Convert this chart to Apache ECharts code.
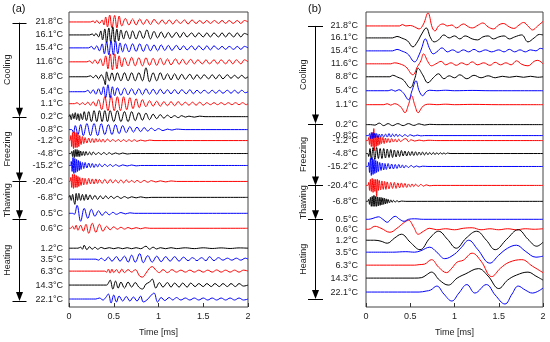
<!DOCTYPE html>
<html><head><meta charset="utf-8">
<script src="https://cdn.jsdelivr.net/npm/echarts@6/dist/echarts.min.js"></script>
<style>html,body{margin:0;padding:0;background:#fff}#c{width:550px;height:342px}</style>
</head><body><div id="c"></div>
<script>
// ---- data ----
const xTicks = [0, 0.5, 1, 1.5, 2];
const temps = ['21.8°C','16.1°C','15.4°C','11.6°C','8.8°C','5.4°C','1.1°C','0.2°C','-0.8°C','-1.2°C','-4.8°C','-15.2°C','-20.4°C','-6.8°C','0.5°C','0.6°C','1.2°C','3.5°C','6.3°C','14.3°C','22.1°C'];
const offsetsA = [22,35,48,62,77,92,104,117,130,141,154,166,182,198,214,229,249,260,272,286,300];
const offsetsB = [26,38,51,64,77,91,105,125,136,141,154,167,186,202,220,230,241,253,266,279,293];
const groupNames = ['Cooling','Freezing','Thawing','Heating'];
const groupEdgesA = [22.7,117,182,220,302];
const groupEdgesB = [26,124,186,220,300];

// waveforms: flat lists of time [ms], amplitude
const a01=[0,0,0.24,0,0.27,1,0.29,-1,0.31,1.5,0.34,-1.5,0.37,2,0.39,-3,0.41,5,0.43,-5,0.455,7,0.48,-6,0.51,6.5,0.535,-6,0.56,6,0.59,-4,0.63,3.5,0.67,-3,0.71,3,0.75,-3,0.79,3,0.83,-2.5,0.87,2.5,0.91,-2.5,0.95,2.5,1.0,-2,1.04,2,1.08,-2,1.12,2,1.16,-2,1.2,2,1.245,-1.5,1.29,2,1.33,-2,1.375,2,1.42,-1.5,1.46,1.5,1.5,-1.5,1.54,1.5,1.58,-1.5,1.625,1.5,1.67,-1.5,1.71,1.5,1.75,-1.5,1.79,1.5,1.835,-1.5,1.88,1.5,1.92,-1.5,1.96,1.5,2.0,0];
const a02=[0,0,0.23,0,0.26,1,0.28,-1,0.3,1.5,0.33,-2,0.355,4,0.375,-5,0.4,6,0.42,-8,0.445,7,0.465,-7,0.49,8,0.51,-7,0.535,6,0.555,-6,0.58,5,0.61,-4,0.64,4,0.68,-4,0.71,4,0.75,-4,0.79,4,0.83,-3.5,0.87,5,0.91,-4,0.95,3.5,0.99,-3,1.03,3,1.07,-3,1.11,2.5,1.15,-2.5,1.2,2.5,1.24,-2.5,1.28,2.5,1.32,-2,1.37,2,1.41,-2,1.45,2,1.5,-2,1.54,2,1.58,-2,1.62,2,1.67,-2,1.71,2,1.75,-2,1.79,2,1.84,-2,1.88,2,1.92,-2,1.96,1.5,2,0];
const a03=[0,0,0.22,0,0.25,1.5,0.28,-1.5,0.31,2,0.34,-3,0.37,4,0.395,-6,0.42,6,0.445,-7,0.47,7,0.495,-7,0.52,7,0.545,-6,0.57,5,0.6,-4,0.63,4,0.67,-4,0.71,4,0.75,-3.5,0.79,4,0.83,-3.5,0.87,3.5,0.91,-3,0.95,3,0.99,-3,1.03,3,1.07,-2.5,1.11,2.5,1.15,-2.5,1.2,2.5,1.24,-2,1.28,2,1.32,-2,1.37,2,1.41,-2,1.45,2,1.5,-2,1.54,2,1.58,-2,1.62,2,1.67,-1.5,1.71,1.5,1.75,-1.5,1.79,1.5,1.84,-1.5,1.88,1.5,1.92,-1.5,1.96,1.5,2,0];
const a04=[0,0,0.2,0,0.23,1,0.26,-1.5,0.29,2,0.32,-2,0.35,3,0.38,-4,0.41,6,0.435,-7,0.46,8,0.485,-8,0.51,8,0.535,-7,0.56,6,0.59,-5,0.62,4,0.66,-4,0.7,4.5,0.74,-4,0.78,4,0.82,-4,0.86,4,0.9,-3.5,0.94,3.5,0.98,-3.5,1.02,3.5,1.06,-3,1.1,3,1.14,-3,1.19,3,1.23,-2.5,1.27,2.5,1.31,-2.5,1.36,2.5,1.4,-2,1.44,2,1.49,-2,1.53,2,1.57,-2,1.62,2,1.66,-2,1.7,2,1.75,-2,1.79,2,1.83,-2,1.87,2,1.92,-2,1.96,2,2,0];
const a05=[0,0,0.2,0,0.24,1,0.27,-1,0.3,1.5,0.33,-2,0.36,2,0.39,-3,0.405,-8,0.42,5,0.45,-4,0.48,4,0.51,-4,0.54,4,0.58,-4,0.62,4,0.66,-4,0.7,4,0.74,-4,0.78,4,0.82,-4,0.86,9,0.9,-5,0.94,4,0.98,-4,1.02,4,1.06,-3,1.1,3,1.14,-3,1.18,3,1.22,-3,1.26,2.5,1.3,-2.5,1.35,2.5,1.39,-2.5,1.43,2,1.47,-2,1.51,2,1.56,-2,1.6,2,1.64,-2,1.68,2,1.72,-2,1.77,2,1.81,-1.5,1.85,1.5,1.89,-1.5,1.93,1.5,1.97,-1.5,2,0];
const a06=[0,0,0.18,0,0.21,1.5,0.24,-1.5,0.27,2,0.3,-2.5,0.33,3,0.36,-3,0.385,5,0.41,-6,0.435,7,0.46,-6,0.485,5,0.51,-4,0.54,4,0.58,-3.5,0.62,3.5,0.66,-3,0.7,3,0.74,-3,0.78,3,0.82,-3,0.86,3,0.9,-2.5,0.94,2.5,0.98,-2.5,1.02,2.5,1.06,-2,1.1,2,1.14,-2,1.18,2,1.22,-2,1.26,2,1.31,-2,1.35,2,1.39,-2,1.43,1.5,1.47,-1.5,1.51,1.5,1.56,-1.5,1.6,1.5,1.64,-1.5,1.68,1.5,1.72,-1.5,1.77,1.5,1.81,-1.5,1.85,1.5,1.89,-1.5,1.93,1.5,1.97,-1,2,0];
const a07=[0,0,0.06,0,0.09,1,0.12,-1,0.15,1,0.18,-1,0.21,1.5,0.24,-1.5,0.27,2,0.3,-2.5,0.33,4,0.365,-6,0.4,7,0.435,-7,0.47,8,0.505,-7,0.54,7,0.575,-7,0.61,7,0.645,-6,0.68,6,0.715,-5,0.75,5,0.785,-4,0.82,4,0.86,-3,0.9,3,0.94,-2.5,0.98,2.5,1.02,-2.5,1.06,2,1.1,-2,1.14,2,1.18,-2,1.22,2,1.26,-1.5,1.3,1.5,1.34,-1.5,1.38,1.5,1.42,-1.5,1.46,1.5,1.5,-1.5,1.54,1,1.58,-1,1.62,1,1.66,-1,1.7,1,1.74,-1,1.78,1,1.82,-1,1.86,1,1.9,-1,1.94,1,1.98,-1,2,0];
const a08=[0,0,0.01,2,0.025,-3,0.04,3,0.055,-2,0.07,4,0.085,-3,0.1,3,0.115,-4,0.13,3,0.15,-3,0.17,5,0.195,-4,0.22,5,0.25,-5,0.28,6,0.31,-5,0.34,6,0.37,-5,0.4,6,0.43,-5,0.46,6,0.5,-5,0.54,6,0.58,-5,0.62,5,0.66,-5,0.7,5,0.74,-4,0.78,4,0.82,-3.5,0.86,3.5,0.9,-3,0.94,2.5,0.98,-2,1.02,2,1.06,-1.5,1.1,1.5,1.14,-1,1.18,1,1.22,-1,1.26,1,1.3,-0.5,1.34,0.5,1.4,-0.5,1.46,0.5,1.52,0,2,0];
const a09=[0,0,0.03,0,0.05,-3,0.07,4,0.1,-5,0.13,5,0.16,-6,0.2,6,0.24,-6,0.28,6,0.32,-6,0.36,6,0.4,-5,0.44,5,0.48,-5,0.52,5,0.56,-4,0.6,4,0.64,-3,0.68,3,0.72,-2.5,0.76,2.5,0.8,-2,0.84,2,0.88,-1.5,0.92,1.5,0.96,-1,1.0,1,1.05,-1,1.1,0.5,1.15,-0.5,1.2,0.5,1.3,0,2,0];
const a10=[0,0,0.01,0,0.02,5,0.03,-6,0.04,8,0.05,-8,0.06,9,0.07,-7,0.08,8,0.09,-7,0.1,6,0.11,-6,0.12,5,0.135,-4,0.15,4,0.165,-3,0.18,3,0.2,-2.5,0.22,2.5,0.24,-2,0.26,2,0.28,-2,0.3,2,0.32,-1.5,0.34,1.5,0.36,-1.5,0.38,1.5,0.4,-1.5,0.43,1.5,0.46,-1,0.49,1,0.52,-1,0.55,1,0.58,-1,0.61,1,0.64,-1,0.67,0.8,0.7,-0.8,0.73,0.8,0.76,-0.8,0.8,0.5,0.85,-0.5,0.9,0.5,0.95,0,2,0];
const a11=[0,0,0.02,0,0.03,2,0.04,-3,0.05,3,0.06,-4,0.07,4,0.08,-3,0.09,4,0.1,-3,0.11,3,0.12,-3,0.13,2.5,0.145,-2,0.16,2,0.175,-2,0.19,2,0.21,-1.5,0.23,1.5,0.25,-1.5,0.27,1.5,0.3,-1,0.33,1,0.36,-1,0.39,1,0.42,-1,0.45,0.8,0.48,-0.8,0.52,0.6,0.56,-0.6,0.6,0.5,0.65,-0.5,0.7,0,2,0];
const a12=[0,0,0.02,0,0.025,4,0.035,-6,0.045,8,0.055,-8,0.065,7,0.075,-7,0.085,6,0.095,-6,0.105,5,0.115,-5,0.125,4,0.135,-4,0.15,3,0.165,-3,0.18,3,0.2,-2.5,0.22,2.5,0.24,-2,0.26,2,0.28,-2,0.3,1.5,0.32,-1.5,0.34,1.5,0.37,-1.2,0.4,1.2,0.43,-1,0.46,1,0.49,-1,0.52,0.8,0.56,-0.8,0.6,0.6,0.65,-0.5,0.7,0.5,0.75,-0.4,0.8,0,2,0];
const a13=[0,0,0.01,0,0.02,4,0.03,-6,0.04,7,0.05,-7,0.06,7,0.07,-6,0.08,6,0.09,-6,0.1,5,0.11,-5,0.12,4,0.135,-4,0.15,3.5,0.165,-3.5,0.18,3,0.2,-3,0.22,3,0.24,-2.5,0.26,2.5,0.28,-2.5,0.3,2.5,0.32,-2,0.34,2,0.37,-2,0.4,2,0.43,-2,0.46,2,0.49,-1.5,0.52,1.5,0.55,-1.5,0.58,1.5,0.61,-1.5,0.64,1.5,0.67,-1,0.7,1,0.73,-1,0.76,1,0.8,-1,0.84,1,0.88,-0.8,0.92,0.8,0.97,-0.6,1.02,0.6,1.08,-0.5,1.14,0.5,1.2,0,2,0];
const a14=[0,0,0.01,2,0.025,-3,0.04,3,0.055,-4,0.065,-7,0.08,4,0.095,-3,0.11,4,0.13,-3,0.15,3,0.17,-3,0.19,3,0.21,-2.5,0.235,2.5,0.26,-2,0.29,2,0.32,-2,0.35,1.5,0.38,-1.5,0.41,1.5,0.44,-1.2,0.47,1.2,0.5,-1,0.54,1,0.58,-1,0.62,0.8,0.66,-0.8,0.7,0.6,0.75,-0.5,0.8,0.5,0.86,-0.4,0.92,0,2,0];
const a15=[0,0,0.04,0,0.06,-1,0.09,8,0.13,-8,0.17,5,0.21,-5,0.25,4,0.29,-3,0.33,2.5,0.37,-2,0.41,1.5,0.45,-1.5,0.49,1,0.53,-1,0.58,0.8,0.63,-0.6,0.68,0.5,0.73,0,2,0];
const a16=[0,0,0.02,0,0.04,2,0.06,-1,0.08,3,0.1,-2,0.13,3,0.16,-3,0.19,4,0.22,-5,0.26,5,0.3,-4,0.34,4,0.38,-3,0.42,2,0.46,-1.5,0.5,1.5,0.54,-1,0.58,1,0.62,-0.8,0.66,0.8,0.7,-0.6,0.75,0.6,0.8,-0.5,0.85,0.5,0.9,0,2,0];
const a17=[0,0,0.1,0,0.13,1,0.15,-1,0.17,3,0.2,-1.5,0.23,1.5,0.26,-1,0.29,1,0.32,-1,0.36,0.8,0.4,-0.5,0.45,0.5,0.5,-0.5,0.55,0.5,0.6,-0.5,0.65,0.5,0.7,-0.5,0.75,0.5,0.8,-0.5,0.86,2,0.9,-1,0.94,1,0.98,-0.8,1.02,0.5,1.08,-0.5,1.14,0.5,1.2,-0.4,1.3,0.4,1.4,-0.4,1.5,0.4,1.6,-0.3,1.7,0.3,1.8,-0.3,1.9,0.3,2,0];
const a18=[0,0,0.3,0,0.33,-1,0.36,1,0.4,-1.5,0.44,2,0.48,-2,0.53,2.5,0.57,-2,0.62,3,0.66,-3,0.7,4,0.74,-3,0.79,5.5,0.83,-3.5,0.88,3.5,0.93,-3,0.98,3,1.03,-2.5,1.08,2.5,1.13,-2,1.18,2.5,1.23,-2,1.28,2,1.33,-1.5,1.38,1.5,1.43,-1.5,1.48,1.5,1.53,-1.5,1.57,2.5,1.62,-1.5,1.67,1.5,1.72,-1,1.77,1,1.82,-1,1.87,1,1.92,-1,1.97,1,2,0];
const a19=[0,0,0.4,0,0.42,-1,0.44,2,0.46,-2,0.48,2,0.5,-1.5,0.53,1.5,0.56,-2,0.59,2,0.62,-1.5,0.66,1.5,0.7,-1,0.74,1.5,0.79,-5,0.82,-6,0.86,-2,0.9,3,0.93,4.5,0.97,1,1.01,-1.5,1.05,1.5,1.1,-1.5,1.15,1.5,1.2,-1,1.25,1,1.3,-1,1.35,1,1.4,-1,1.45,1,1.5,-1,1.55,1,1.6,-1,1.65,1.2,1.7,-1,1.75,1,1.8,-1,1.85,1,1.9,-1,1.95,1,2,0];
const a20=[0,0,0.42,0,0.44,2,0.46,5,0.49,-4,0.52,4,0.55,-3,0.58,3,0.62,-3,0.66,3,0.7,-2,0.74,2.5,0.78,-2,0.82,-4,0.86,1,0.9,3,0.93,6,0.97,-3,1.01,2.5,1.05,-2,1.1,2.5,1.14,-2,1.18,2,1.23,-2,1.27,2,1.32,-2,1.36,2,1.41,-1.5,1.45,1.5,1.5,-1.5,1.54,1.5,1.59,-1.5,1.63,1.5,1.68,-1.5,1.72,1.5,1.77,-1.5,1.81,1.5,1.86,-1.5,1.9,1.5,1.95,-1,2,0];
const a21=[0,0,0.3,0,0.34,1,0.38,-1,0.41,1.5,0.44,5,0.47,-4,0.5,4,0.53,-3,0.56,3,0.6,-2,0.64,2.5,0.68,-2,0.72,2,0.76,-2,0.8,3,0.83,-3,0.87,-1,0.91,3,0.95,6,0.99,-3,1.03,1.5,1.07,-1.5,1.12,1.5,1.16,-1,1.2,1.5,1.25,-1,1.3,1,1.35,-1,1.4,1,1.45,-1,1.5,1,1.55,-1,1.6,1,1.65,-1,1.7,1,1.75,-1,1.8,1,1.85,-1,1.9,1,1.95,-1,2,0];

const b01=[0,0,0.38,0,0.41,1.5,0.45,0,0.5,0.5,0.55,-1,0.6,-3,0.65,2,0.7,13,0.75,-2,0.78,-5,0.82,0,0.87,2,0.92,0,0.97,1,1.02,-2,1.1,2,1.16,-1,1.2,-2,1.27,1,1.32,3,1.38,-1,1.44,-3,1.5,1,1.55,2.5,1.62,-1,1.67,-2.5,1.73,1,1.78,3.5,1.84,-1,1.88,-4,1.94,0,2,4.5];
const b02=[0,0,0.3,0,0.35,1.5,0.4,0,0.47,-3,0.53,-9,0.58,-4,0.63,4,0.68,10,0.73,0,0.77,-4,0.82,-2,0.88,3,0.94,0,1.0,2,1.06,-1,1.12,2,1.2,-1,1.26,-2,1.32,1,1.38,2,1.44,-1,1.5,1,1.56,2,1.62,-1,1.68,1,1.76,3,1.83,-4,1.9,0,1.96,3.5,2,3];
const b03=[0,0,0.3,0,0.35,1.5,0.4,0,0.47,-3,0.55,-11,0.6,-4,0.63,3,0.67,12,0.72,2,0.76,-3,0.8,-1,0.86,3,0.92,-1,0.98,1,1.04,-1.5,1.1,1,1.16,-1,1.22,1.5,1.28,-1,1.35,1,1.42,-1,1.5,1,1.56,-1,1.62,1.5,1.68,-1,1.74,1,1.8,-1,1.86,1,1.92,0,1.97,2.5,2,2];
const b04=[0,0,0.28,0,0.32,1,0.38,0,0.45,-3,0.53,-11,0.58,-3,0.62,3,0.65,10,0.7,2,0.74,-2,0.79,0,0.85,2.5,0.9,-1,0.96,1,1.02,-1.5,1.08,1,1.14,-1,1.2,2,1.26,-1,1.33,1,1.4,-1.5,1.46,1.5,1.52,-1,1.58,1,1.64,-1,1.7,3,1.76,-0.5,1.83,-2,1.9,2.5,1.94,3.5,2,0];
const b05=[0,0,0.27,0,0.3,1.5,0.36,-0.5,0.42,-3,0.5,-11,0.55,-2,0.59,8.5,0.64,2,0.7,-6,0.76,-1,0.82,3,0.88,-2,0.94,1,1.0,-1,1.06,2,1.14,-2,1.22,1.5,1.3,-1,1.38,1,1.46,-1,1.54,0.5,1.62,-0.5,1.7,0.5,1.78,-0.5,1.86,0.5,1.94,-0.5,2,0];
const b06=[0,0,0.25,0,0.29,1,0.33,-0.5,0.37,1,0.42,-2,0.48,-9,0.52,0,0.565,10,0.6,0,0.64,-5,0.68,-1,0.72,0.5,0.8,0,0.9,0.5,1.0,0,1.2,0.3,1.4,0,2,0];
const b07=[0,0,0.2,0,0.24,1,0.28,-0.5,0.32,1,0.36,0,0.4,-3,0.44,-8,0.48,0,0.515,9,0.55,0,0.59,-8,0.63,-3,0.67,0,0.72,0.5,0.8,0,0.9,0.5,1.0,0,1.2,0.3,1.5,0,2,0];
const b08=[0,0,0.05,0,0.1,-0.5,0.15,1.5,0.2,-1,0.25,1,0.3,-1,0.36,1,0.42,-1,0.48,1,0.54,-0.8,0.6,0.8,0.66,-0.5,0.72,0.3,0.8,0,2,0];
const b09=[0,0,0.03,0,0.04,2,0.05,-3,0.06,3,0.07,-3,0.08,3,0.09,-2.5,0.1,2.5,0.11,-2,0.12,2,0.135,-2,0.15,1.5,0.165,-1.5,0.18,1.5,0.2,-1.5,0.22,1.5,0.24,-1.5,0.26,2,0.28,-1.5,0.3,1.5,0.32,-1,0.34,1.5,0.36,-1,0.38,1,0.41,-1,0.44,1,0.47,-0.8,0.5,0.8,0.54,-0.5,0.58,0.5,0.62,-0.3,0.66,0,2,0];
const b10=[0,0,0.02,0,0.03,3,0.04,-4,0.05,5,0.06,-6,0.07,8,0.08,-6,0.088,12,0.095,-10,0.105,6,0.115,-6,0.125,5,0.135,-5,0.145,4,0.155,-4,0.165,3.5,0.175,-3,0.19,3,0.205,-3,0.22,2.5,0.235,-2,0.25,2,0.27,-2,0.29,2,0.31,-1.5,0.33,1.5,0.35,-1.5,0.37,1.5,0.39,-1,0.42,1,0.45,2,0.48,-1,0.51,0.8,0.55,-0.5,0.6,0.5,0.65,-0.3,0.7,0.3,0.8,0,2,0];
const b11=[0,0,0.02,0,0.03,-3,0.045,5,0.06,-6,0.08,6,0.1,-6,0.12,6,0.14,-5,0.16,5,0.18,-5,0.2,5,0.22,-4.5,0.24,4.5,0.26,-4,0.28,4,0.3,-4,0.32,3.5,0.34,-3.5,0.36,3,0.38,-3,0.4,3,0.42,-2.5,0.44,2.5,0.46,-2.5,0.48,2,0.5,-2,0.52,2,0.54,-2,0.56,1.8,0.58,-1.8,0.6,1.5,0.62,-1.5,0.64,1.5,0.66,-1.5,0.68,1.2,0.7,-1.2,0.72,1,0.74,-1,0.76,1,0.78,-1,0.8,0.8,0.82,-0.8,0.84,0.8,0.86,-0.6,0.88,0.6,0.9,-0.5,0.92,0.5,0.95,0,2,0];
const b12=[0,0,0.02,0,0.03,4,0.04,-6,0.05,8,0.06,-9,0.07,9,0.08,-8,0.09,7,0.1,-7,0.11,6,0.12,-6,0.13,5,0.14,-5,0.155,4,0.17,-4,0.185,3.5,0.2,-3.5,0.215,3,0.23,-3,0.25,3,0.27,-2.5,0.29,2.5,0.31,-2.5,0.33,2,0.35,-2,0.37,2,0.39,-1.5,0.41,1.5,0.43,-1.5,0.45,1,0.48,-1,0.51,1,0.54,-0.8,0.57,0.6,0.6,-0.5,0.64,0.3,0.7,0,2,0];
const b13=[0,0,0.02,0,0.03,3,0.04,-5,0.05,6,0.06,-6,0.07,7,0.08,-7,0.09,6,0.1,-6,0.11,6,0.12,-11,0.13,6,0.14,-5,0.15,5,0.165,-4.5,0.18,4.5,0.195,-4,0.21,4,0.225,-4,0.24,3.5,0.26,-3.5,0.28,3,0.3,-3,0.32,3,0.34,-3,0.36,2.5,0.38,-2.5,0.4,2.5,0.42,-2,0.44,2,0.46,-2,0.48,1.5,0.5,-1.5,0.52,1.5,0.54,-1.2,0.56,1.2,0.59,-1,0.62,1,0.65,-0.8,0.68,0.6,0.72,-0.4,0.76,0,2,0];
const b14=[0,0,0.02,0,0.03,2,0.04,-3,0.05,4,0.06,-5,0.07,5,0.08,-5,0.09,6,0.1,-5,0.11,5,0.12,-5,0.13,4.5,0.14,-4.5,0.15,4,0.16,-4,0.17,4,0.18,-3.5,0.19,3.5,0.2,-3,0.21,3,0.22,-2.5,0.23,2.5,0.24,-2,0.25,2,0.265,-1.5,0.28,1.5,0.295,-1,0.31,1,0.33,-0.8,0.35,0.8,0.37,-0.5,0.4,0.3,0.45,0,2,0];
const b15=[0,0,0.03,0,0.08,1,0.14,2.5,0.19,0,0.24,-3,0.28,0,0.33,3,0.38,0,0.43,-2,0.48,0,0.55,0.5,0.65,0,2,0];
const b16=[0,0,0.03,0,0.1,3,0.17,1,0.27,-3,0.35,1,0.42,6,0.48,9,0.54,2,0.59,-5,0.65,-2,0.72,1,0.8,-0.5,0.9,0.5,1.0,-0.5,1.1,1,1.2,1.5,1.3,-0.5,1.4,0.5,1.5,-0.5,1.6,0.5,1.7,-0.5,1.8,0.5,1.9,0,2,0.5];
const b17=[0,0,0.1,0,0.17,-1,0.24,-3,0.32,2,0.4,6,0.5,-2,0.61,-9.5,0.72,2,0.82,9,0.92,1,1.02,-8,1.13,2,1.25,9,1.36,0,1.46,-9.5,1.59,1,1.72,10.5,1.83,1,1.93,-6,2,-2];
const b18=[0,0,0.3,0,0.45,0.5,0.55,0,0.62,1.5,0.72,5,0.8,0,0.89,-6.5,1.0,-2,1.08,5,1.16,12,1.26,3,1.4,-11,1.5,-3,1.6,4,1.7,7,1.8,1,1.92,-5,2,-4];
const b19=[0,0,0.55,0,0.6,0.5,0.66,1,0.74,5.5,0.82,-2,0.91,-7.5,0.97,-3,1.03,3,1.1,5,1.2,12,1.3,4,1.42,-11.5,1.52,-3,1.62,3,1.76,5.5,1.88,-1,2,-7.5];
const b20=[0,0,0.55,0,0.63,0.5,0.68,3,0.74,6,0.83,-2,0.93,-7,1.03,0,1.12,4,1.27,9.5,1.38,2,1.5,-10.5,1.6,-2,1.7,3,1.83,6,1.92,2,2,-2];
const b21=[0,0,0.6,0,0.68,1,0.73,2,0.8,6,0.88,-2,0.97,-9,1.05,-1,1.14,7.5,1.23,-1,1.36,7.5,1.46,-3,1.57,-12,1.65,-2,1.72,6,1.8,2,1.88,-1,2,4];

const wavesA=[a01,a02,a03,a04,a05,a06,a07,a08,a09,a10,a11,a12,a13,a14,a15,a16,a17,a18,a19,a20,a21];
const wavesB=[b01,b02,b03,b04,b05,b06,b07,b08,b09,b10,b11,b12,b13,b14,b15,b16,b17,b18,b19,b20,b21];

// ---- chart ----
const palette = ['#ff0000','#000000','#0000ff'];
const FONT = 'Liberation Sans, Arial, sans-serif';
const chart = echarts.init(document.getElementById('c'), null, {renderer:'canvas'});

function toSeries(waves, offsets, idx){
  return waves.map((w,i)=>{
    const d=[];
    for(let k=0;k<w.length;k+=2) d.push([w[k], offsets[i]-w[k+1]]);
    return {type:'line', xAxisIndex:idx, yAxisIndex:idx, data:d, smooth:0.4, showSymbol:false,
      lineStyle:{color:palette[i%3], width:1}, silent:true, animation:false, z:2+(i%3)};
  });
}
const grids=[{left:69,right:302,top:12,bottom:34},{left:366,right:7,top:12,bottom:34}];
const xAxisCfg = gi => ({type:'value', gridIndex:gi, min:0, max:2, interval:0.5,
  axisLine:{show:false}, splitLine:{show:false},
  axisTick:{show:true, inside:true, length:4, lineStyle:{color:'#333'}},
  axisLabel:{color:'#222', fontSize:9, fontFamily:FONT, margin:5, formatter:v=>xTicks.includes(v)?String(v):''},
  name:'Time [ms]', nameLocation:'middle', nameGap:21, nameTextStyle:{color:'#222', fontSize:9, fontFamily:FONT}});
const yAxisCfg = gi => ({type:'value', gridIndex:gi, min:12, max:308, inverse:true, show:false});

chart.setOption({
  animation:false,
  grid:grids.map(g=>Object.assign({show:true, borderColor:'#444', borderWidth:1, backgroundColor:'transparent'},g)),
  xAxis:[xAxisCfg(0), xAxisCfg(1)],
  yAxis:[yAxisCfg(0), yAxisCfg(1)],
  series:[...toSeries(wavesA, offsetsA, 0), ...toSeries(wavesB, offsetsB, 1)]
});

// annotations
const gfx=[];
function txt(x,y,s,opts){
  gfx.push({type:'text', x:x, y:y, silent:true,
    style:Object.assign({text:s, fill:'#222', font:'9px '+FONT, textAlign:'right', textVerticalAlign:'middle', align:'right', verticalAlign:'middle'}, opts||{})});
}
function panelAnno(idx, offsets, edges, labelRight, arrowX, halfW, groupX, tag, tagX){
  const py = v => chart.convertToPixel({yAxisIndex:idx}, v);
  temps.forEach((t,i)=> txt(labelRight, py(offsets[i]), t));
  edges.forEach(e=>{
    const y=Math.round(py(e))+0.5;
    gfx.push({type:'line', silent:true, shape:{x1:arrowX-halfW, y1:y, x2:arrowX+halfW, y2:y}, style:{stroke:'#000', lineWidth:1}});
  });
  for(let g=0; g<groupNames.length; g++){
    const y0=py(edges[g]), y1=py(edges[g+1]);
    gfx.push({type:'line', silent:true, shape:{x1:arrowX, y1:y0, x2:arrowX, y2:y1-8}, style:{stroke:'#000', lineWidth:1}});
    gfx.push({type:'polygon', silent:true, shape:{points:[[arrowX-3.5,y1-9],[arrowX+3.5,y1-9],[arrowX,y1]]}, style:{fill:'#000'}});
    gfx.push({type:'text', silent:true, x:groupX, y:(y0+y1)/2, rotation:Math.PI/2,
      style:{text:groupNames[g], fill:'#222', font:'9px '+FONT, textAlign:'center', textVerticalAlign:'middle', align:'center', verticalAlign:'middle'}});
  }
  gfx.push({type:'text', silent:true, x:tagX, y:9, style:{text:tag, fill:'#111', font:'11px '+FONT, textAlign:'left', textVerticalAlign:'middle', align:'left', verticalAlign:'middle'}});
}
panelAnno(0, offsetsA, groupEdgesA, 63, 19.5, 7, 7.5, '(a)', 12);
panelAnno(1, offsetsB, groupEdgesB, 358, 315.5, 7.5, 304, '(b)', 308);
chart.setOption({graphic:{elements:gfx}});
</script></body></html>
